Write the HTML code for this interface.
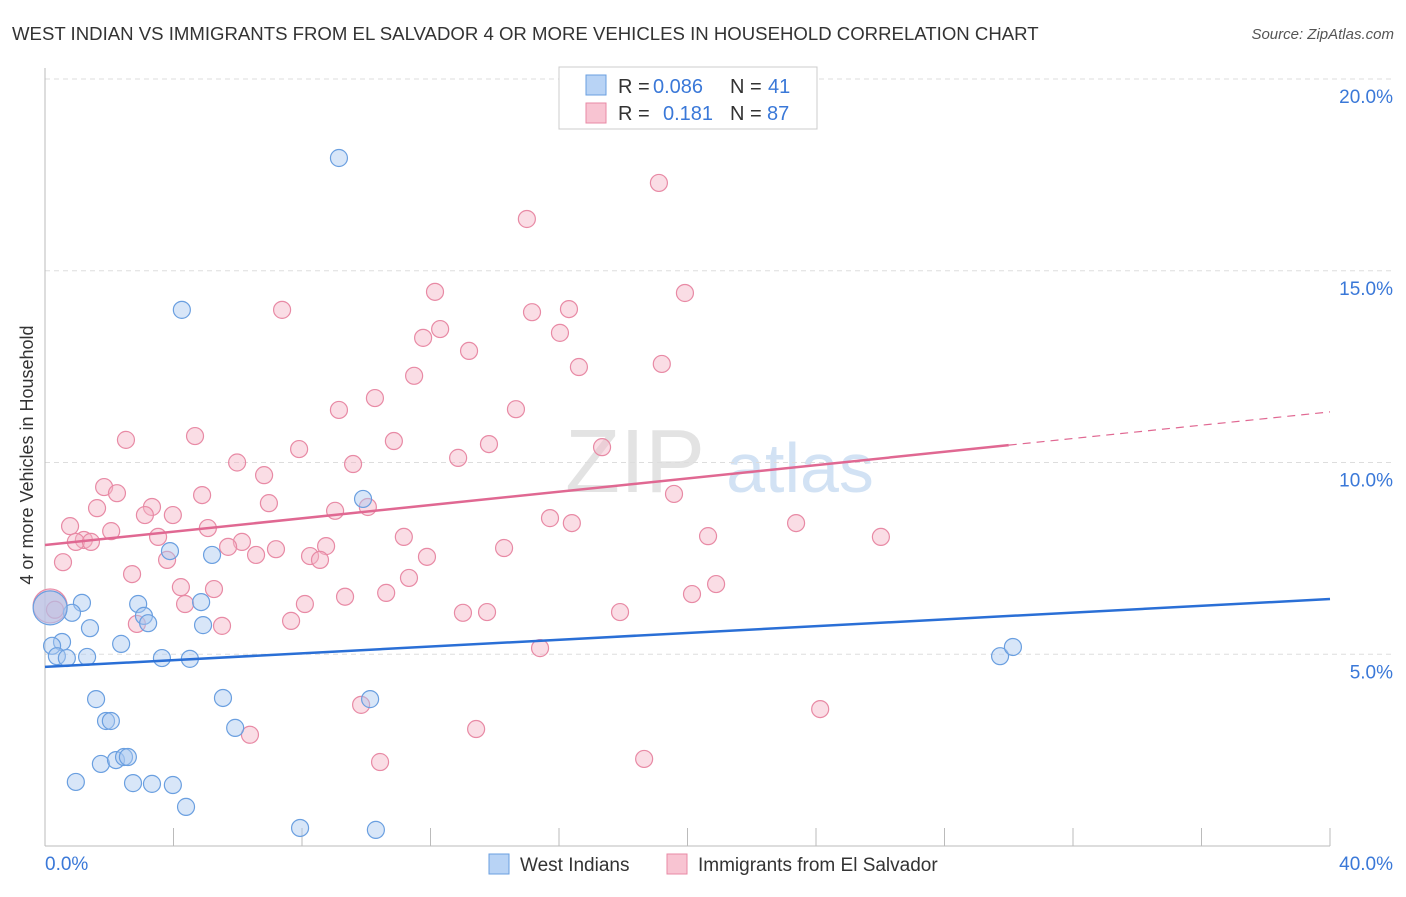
<!DOCTYPE html>
<html><head><meta charset="utf-8"><style>
body{margin:0;background:#fff;font-family:"Liberation Sans",sans-serif}
svg text{font-family:"Liberation Sans",sans-serif}
</style></head><body>
<svg id="c" width="1406" height="892" xmlns="http://www.w3.org/2000/svg">
<text x="12" y="40" font-size="18.6" fill="#333">WEST INDIAN VS IMMIGRANTS FROM EL SALVADOR 4 OR MORE VEHICLES IN HOUSEHOLD CORRELATION CHART</text>
<text x="1394" y="39" font-size="15" fill="#555" text-anchor="end" font-style="italic">Source: ZipAtlas.com</text>
<text x="33" y="455" font-size="18" fill="#333" text-anchor="middle" transform="rotate(-90 33 455)">4 or more Vehicles in Household</text>
<text x="635" y="492" font-size="90" fill="#ddd" font-family="Liberation Serif" text-anchor="middle" opacity="0.8">ZIP</text>
<text x="800" y="492" font-size="70" fill="#c8dcf2" text-anchor="middle" opacity="0.8">atlas</text>
<g id="grid"></g><g id="marks"></g><g id="lines"></g>
<g>
<rect x="559" y="67" width="258" height="62" fill="#fff" stroke="#ccc"/>
<rect x="586" y="75" width="20" height="20" fill="#b8d3f5" stroke="#6a9fe0"/>
<text x="618" y="93" font-size="20" fill="#333">R =</text><text x="653" y="93" font-size="20" fill="#3a78d8">0.086</text>
<text x="730" y="93" font-size="20" fill="#333">N =</text><text x="768" y="93" font-size="20" fill="#3a78d8">41</text>
<rect x="586" y="103" width="20" height="20" fill="#f8c4d2" stroke="#e88aa5"/>
<text x="618" y="120" font-size="20" fill="#333">R =</text><text x="663" y="120" font-size="20" fill="#3a78d8">0.181</text>
<text x="730" y="120" font-size="20" fill="#333">N =</text><text x="767" y="120" font-size="20" fill="#3a78d8">87</text>
</g>
<g>
<rect x="489" y="854" width="20" height="20" fill="#b8d3f5" stroke="#6a9fe0"/>
<text x="520" y="871" font-size="19" fill="#333">West Indians</text>
<rect x="667" y="854" width="20" height="20" fill="#f8c4d2" stroke="#e88aa5"/>
<text x="698" y="871" font-size="19" fill="#333">Immigrants from El Salvador</text>
</g>
</svg>
<script>
const yTicks=[5,10,15,20];
const yTickLabels=["5.0%","10.0%","15.0%","20.0%"];
const xTickLabels=["0.0%","40.0%"];
const blueX=[9.15,4.26,9.9,3.89,5.2,1.15,2.9,0.84,3.08,4.86,3.21,1.4,4.92,0.53,0.22,2.37,0.37,0.68,1.31,3.64,4.51,1.59,5.54,10.12,1.9,2.05,5.92,1.74,2.21,2.46,2.58,0.96,2.74,3.33,3.98,4.39,7.94,10.3,29.73,30.13,0.16];
const blueY=[17.94,13.98,9.05,7.69,7.59,6.34,6.31,6.08,6.0,6.36,5.81,5.68,5.76,5.32,5.22,5.27,4.95,4.9,4.93,4.9,4.88,3.83,3.86,3.83,3.26,3.26,3.08,2.14,2.24,2.32,2.32,1.67,1.64,1.62,1.59,1.02,0.47,0.42,4.95,5.19,6.21];
const pinkX=[19.11,15.0,7.38,12.14,19.92,15.16,16.31,12.3,11.77,16.03,13.2,11.49,16.62,19.2,10.27,9.15,14.66,2.52,4.67,10.86,13.82,7.91,17.34,12.86,5.98,9.59,6.82,1.84,2.24,4.89,19.58,3.33,6.97,9.03,10.05,1.62,3.11,3.98,15.72,16.4,23.38,0.78,5.07,2.06,3.52,20.64,26.02,11.17,1.21,0.96,1.43,6.13,5.7,8.75,14.29,7.19,8.25,6.57,8.56,11.89,3.8,0.56,2.71,11.33,4.23,5.26,20.89,10.62,9.34,20.14,4.36,8.09,13.01,13.76,17.9,7.66,2.86,5.51,0.16,15.41,9.84,24.13,6.38,13.42,10.43,18.65,0.31];
const pinkY=[17.29,16.35,13.98,14.45,14.42,13.92,14.0,13.48,13.25,13.38,12.91,12.26,12.49,12.57,11.68,11.37,11.39,10.59,10.69,10.56,10.48,10.35,10.4,10.12,10.0,9.96,9.67,9.36,9.2,9.15,9.18,8.84,8.94,8.74,8.84,8.81,8.63,8.63,8.55,8.42,8.42,8.34,8.29,8.21,8.06,8.08,8.06,8.06,7.98,7.93,7.93,7.93,7.8,7.82,7.77,7.74,7.56,7.59,7.46,7.54,7.46,7.4,7.09,6.99,6.75,6.7,6.83,6.6,6.5,6.57,6.31,6.31,6.08,6.1,6.1,5.87,5.79,5.74,6.26,5.16,3.68,3.57,2.9,3.05,2.19,2.27,6.16];
const blueTrend=[4.67,6.44];
const pinkTrend=[7.85,11.32];
const X=v=>45+v*32.125, Y=v=>846-v*38.35;
const NS="http://www.w3.org/2000/svg";
function mk(t,a,p){const e=document.createElementNS(NS,t);for(const k in a)e.setAttribute(k,a[k]);p.appendChild(e);return e;}
const g=document.getElementById('grid');
yTicks.forEach((t,i)=>{
 const l=mk('line',{x1:45,x2:1392,y1:Y(t),y2:Y(t),stroke:'#ddd','stroke-dasharray':'5,4'},g);
 
 
 const tx=mk('text',{x:1393,y:Y(t)+24,'font-size':19,fill:'#3a78d8','text-anchor':'end'},g);tx.textContent=yTickLabels[i];
 
 
});
const ax=mk('line',{x1:45,x2:45,y1:68,y2:846,stroke:'#bbb'},g);


const bx=mk('line',{x1:45,x2:1330,y1:846,y2:846,stroke:'#bbb'},g);


for(let i=0;i<=10;i++){const t=mk('line',{x1:X(i*4),x2:X(i*4),y1:828,y2:846,stroke:'#bbb'},g);
 
 }
[[0,'start'],[40,'end']].forEach((d,i)=>{const t=mk('text',{x:i?1393:45,y:870,'font-size':19,fill:'#3a78d8','text-anchor':d[1]},g);t.textContent=xTickLabels[i];
 
 });
const m=document.getElementById('marks');
function pts(xs,ys,fill,stroke,name){xs.forEach((x,i)=>{const big=(x<0.2);const c=mk('circle',{cx:X(x),cy:Y(ys[i]),r:big?17:8.5,fill:fill,'fill-opacity':big?0.6:0.45,stroke:stroke,'stroke-width':1.2},m);
 
 });}
pts(pinkX,pinkY,'#f4b3c6','#e88aa5','el-salvador-point');
pts(blueX,blueY,'#a8c8f0','#6a9fe0','west-indian-point');
const L=document.getElementById('lines');
const b=mk('line',{x1:X(0),y1:Y(blueTrend[0]),x2:X(40),y2:Y(blueTrend[1]),stroke:'#2a6fd6','stroke-width':2.5},L);


const px=30.0, py=pinkTrend[0]+(pinkTrend[1]-pinkTrend[0])*px/40;
const p=mk('line',{x1:X(0),y1:Y(pinkTrend[0]),x2:X(px),y2:Y(py),stroke:'#e06892','stroke-width':2.5},L);


const pd=mk('line',{x1:X(px),y1:Y(py),x2:X(40),y2:Y(pinkTrend[1]),stroke:'#e06892','stroke-width':1.2,'stroke-dasharray':'8,6'},L);


</script>
</body></html>
